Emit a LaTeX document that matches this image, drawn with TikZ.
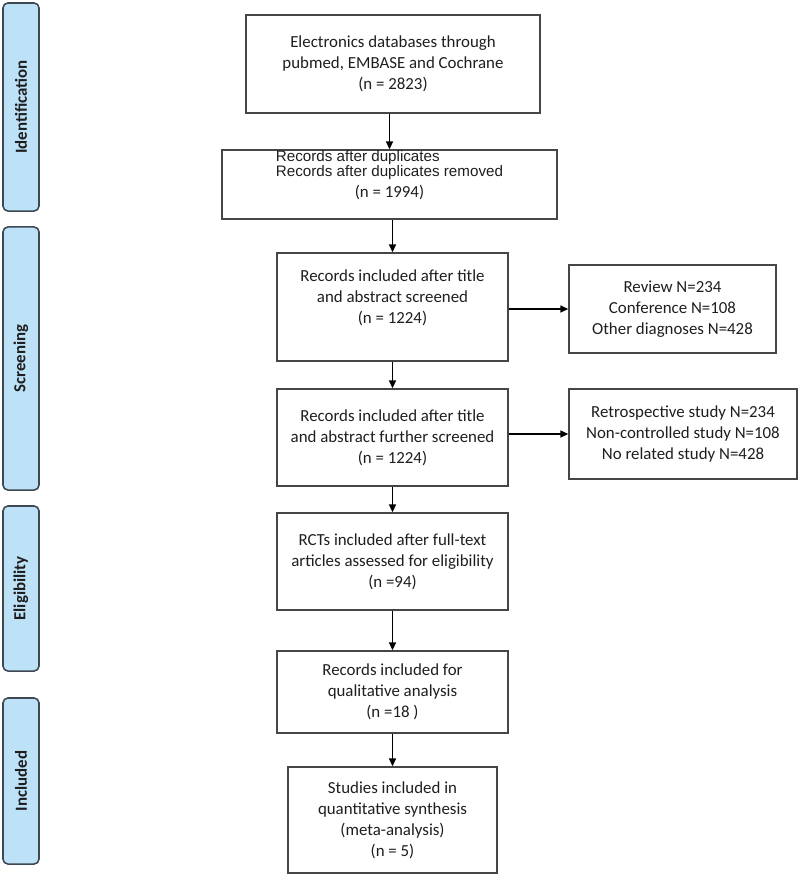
\documentclass[tikz,border=0pt]{standalone}
\usepackage{fontspec}
\setmainfont{Carlito}
\newfontfamily\arialfont{Liberation Sans}
\usetikzlibrary{arrows.meta}

\definecolor{stagefill}{RGB}{189,225,246}
\definecolor{stageline}{RGB}{62,72,82}
\definecolor{boxline}{RGB}{70,70,70}
\definecolor{boxtext}{RGB}{30,30,30}

\begin{document}
\begin{tikzpicture}[%
  x=0.025cm, y=-0.025cm,
  stage/.style={draw=stageline, fill=stagefill, line width=1.1pt,
    rounded corners=3.5pt, rotate=90, inner sep=0pt, minimum height=0.9cm,
    text=boxtext, font=\fontsize{12}{15}\selectfont\bfseries},
  box/.style={draw=boxline, line width=1.1pt, inner sep=0pt, align=center,
    text=boxtext, font=\fontsize{12}{15}\selectfont},
  arr/.style={line width=0.85pt, -{Triangle[length=5.5pt,width=5pt]}}]
  \useasboundingbox (0,0) rectangle (800,877);

  % stages
  \node[stage, minimum width=5.2cm] (ident) at (21,107) {Identification};
  \node[stage, minimum width=6.575cm] (screen) at (21,358.5) {Screening};
  \node[stage, minimum width=4.125cm] (elig) at (21,588.5) {Eligibility};
  \node[stage, minimum width=4.15cm] (incl) at (21,781) {Included};

  % main column
  \node[box, minimum width=7.35cm, minimum height=2.45cm] (db) at (393,64)
    {Electronics databases through\\pubmed, EMBASE and Cochrane\\(n = 2823)};
  \node[box, minimum width=8.375cm, minimum height=1.725cm] (dup) at (389.5,184.5)
    {{\fontsize{10.8}{10}\selectfont\arialfont\begin{tabular}[b]{@{}l@{}}Records after duplicates\\Records after duplicates removed\end{tabular}}\\(n = 1994)\\ \mbox{}};
  \node[box, minimum width=5.775cm, minimum height=2.7cm] (title) at (392.5,307)
    {Records included after title\\and abstract screened\\(n = 1224)\\ \mbox{}};
  \node[box, minimum width=5.775cm, minimum height=2.425cm] (further) at (392.5,437.5)
    {Records included after title\\and abstract further screened\\(n = 1224)};
  \node[box, minimum width=5.775cm, minimum height=2.425cm] (fulltext) at (392.5,561.5)
    {RCTs included after full-text\\articles assessed for eligibility\\(n =94)};
  \node[box, minimum width=5.775cm, minimum height=2.05cm] (qual) at (392.5,692)
    {Records included for\\qualitative analysis\\(n =18 )};
  \node[box, minimum width=5.225cm, minimum height=2.65cm] (quant) at (392.5,820)
    {Studies included in\\quantitative synthesis\\(meta-analysis)\\(n = 5)};

  % exclusions
  \node[box, minimum width=5.175cm, minimum height=2.2cm] (excla) at (672.5,309)
    {Review N=234\\Conference N=108\\Other diagnoses N=428};
  \node[box, minimum width=5.7cm, minimum height=2.25cm] (exclb) at (683,434)
    {Retrospective study N=234\\Non-controlled study N=108\\No related study N=428};

  \draw[arr] (db.south -| dup.north) -- (dup.north);
  \draw[arr] (dup.south -| title.north) -- (title.north);
  \draw[arr] (title) -- (further);
  \draw[arr] (further) -- (fulltext);
  \draw[arr] (fulltext) -- (qual);
  \draw[arr] (qual) -- (quant);
  \draw[arr] (title.east |- excla.west) -- (excla.west);
  \draw[arr] (further.east |- exclb.west) -- (exclb.west);
\end{tikzpicture}
\end{document}
